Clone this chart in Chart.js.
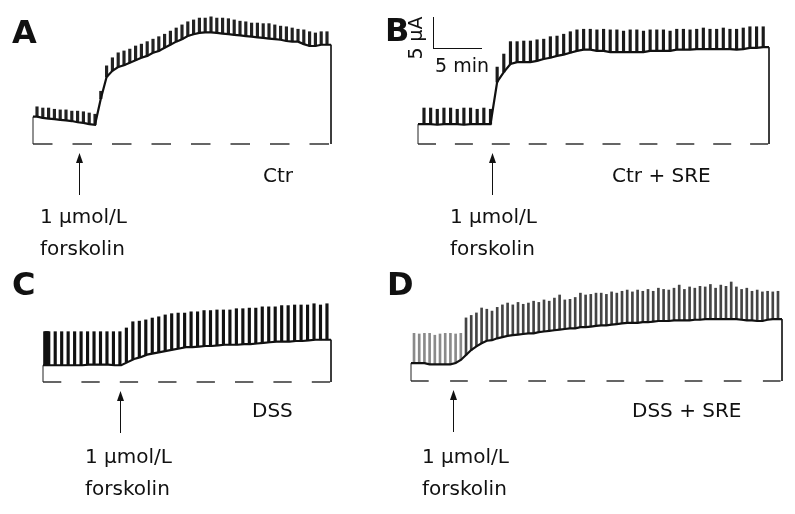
<!DOCTYPE html>
<html>
<head>
<meta charset="utf-8">
<script src="https://cdn.jsdelivr.net/npm/chart.js@4.4.1/dist/chart.umd.min.js"></script>
<style>
    html, body { margin: 0; padding: 0; background: #fff; }
    #fig {
        position: relative; width: 795px; height: 514px; overflow: hidden;
        font-family: "DejaVu Sans", Verdana, sans-serif; color: #111;
    }
    #fig canvas { position: absolute; left: 0; top: 0; }
    .t { position: absolute; font-size: 20px; line-height: 1; white-space: nowrap; }
    .lab { position: absolute; font-size: 32px; font-weight: bold; line-height: 1; }
    .bar { position: absolute; background: #111; }
</style>
</head>
<body>
<div id="fig">
    <canvas id="chartA" width="795" height="514"></canvas>
    <canvas id="chartB" width="795" height="514"></canvas>
    <canvas id="chartC" width="795" height="514"></canvas>
    <canvas id="chartD" width="795" height="514"></canvas>

    <div class="lab" style="left:12px; top:16px;">A</div>
    <div class="lab" style="left:385px; top:14px;">B</div>
    <div class="lab" style="left:12px; top:268px;">C</div>
    <div class="lab" style="left:387px; top:268px;">D</div>

    <!-- scale bar: 5 uA / 5 min -->
    <div class="bar" style="left:433px; top:17px; width:1px; height:31px;"></div>
    <div class="bar" style="left:433px; top:48px; width:49px; height:1px;"></div>
    <div class="t" style="left:415px; top:38px; font-size:19px; transform:translate(-50%,-50%) rotate(-90deg);">5 &mu;A</div>
    <div class="t" style="left:435px; top:56px; font-size:19px;">5 min</div>

    <div class="t" style="left:40px; top:206px;">1 &mu;mol/L</div>
    <div class="t" style="left:40px; top:238px;">forskolin</div>
    <div class="t" style="left:263px; top:165px;">Ctr</div>

    <div class="t" style="left:450px; top:206px;">1 &mu;mol/L</div>
    <div class="t" style="left:450px; top:238px;">forskolin</div>
    <div class="t" style="left:612px; top:165px;">Ctr + SRE</div>

    <div class="t" style="left:85px; top:446px;">1 &mu;mol/L</div>
    <div class="t" style="left:85px; top:478px;">forskolin</div>
    <div class="t" style="left:252px; top:400px;">DSS</div>

    <div class="t" style="left:422px; top:446px;">1 &mu;mol/L</div>
    <div class="t" style="left:422px; top:478px;">forskolin</div>
    <div class="t" style="left:632px; top:400px;">DSS + SRE</div>
</div>

<script>
// Short-circuit current (uA) at each clamp pulse: baseline and pulse top
const aBase = [4.4, 4.2, 4.1, 4.0, 3.9, 3.8, 3.7, 3.5, 3.4, 3.2, 3.1,
    7.3, 10.8, 11.8, 12.4, 12.7, 13.1, 13.5, 13.9, 14.2, 14.7,
    15.0, 15.5, 16.0, 16.5, 16.9, 17.4, 17.7, 17.9, 18.0, 18.0,
    17.9, 17.8, 17.7, 17.6, 17.5, 17.4, 17.3, 17.2, 17.1, 17.0,
    16.9, 16.8, 16.6, 16.5, 16.5, 16.1, 15.8, 15.8, 16.0, 16.0];
const aTop = [6.0, 5.8, 5.8, 5.6, 5.5, 5.5, 5.3, 5.3, 5.2, 5.0, 4.8,
    8.5, 12.6, 13.9, 14.7, 15.0, 15.3, 15.8, 16.1, 16.5, 16.9,
    17.3, 17.7, 18.2, 18.7, 19.2, 19.7, 20.0, 20.3, 20.3, 20.5,
    20.3, 20.3, 20.2, 20.0, 19.8, 19.7, 19.5, 19.5, 19.4, 19.4,
    19.2, 19.0, 18.9, 18.7, 18.5, 18.4, 18.1, 17.9, 18.1, 18.1];

const bBase = [3.2, 3.2, 3.1, 3.2, 3.2, 3.2, 3.1, 3.2, 3.2, 3.2, 3.2,
    10.0, 11.6, 12.9, 13.2, 13.2, 13.2, 13.4, 13.7, 13.9, 14.2,
    14.4, 14.7, 15.0, 15.2, 15.2, 15.0, 15.0, 14.8, 14.8, 14.8,
    14.8, 14.8, 14.8, 15.0, 15.0, 15.0, 15.0, 15.2, 15.2, 15.2,
    15.3, 15.3, 15.3, 15.3, 15.3, 15.3, 15.2, 15.3, 15.5, 15.5, 15.6];
const bTop = [5.8, 5.8, 5.6, 5.8, 5.8, 5.6, 5.8, 5.8, 5.6, 5.8, 5.6,
    12.4, 14.5, 16.5, 16.5, 16.6, 16.6, 16.8, 16.9, 17.3, 17.4,
    17.7, 18.1, 18.4, 18.5, 18.5, 18.4, 18.5, 18.4, 18.4, 18.2,
    18.4, 18.4, 18.2, 18.4, 18.4, 18.4, 18.2, 18.5, 18.5, 18.4,
    18.5, 18.7, 18.5, 18.5, 18.7, 18.5, 18.5, 18.7, 18.9, 18.9, 18.9];

const cBase = [2.7, 2.7, 2.7, 2.7, 2.7, 2.7, 2.8, 2.8, 2.8, 2.8, 2.7, 2.7,
    3.2, 3.7, 4.0, 4.4, 4.6, 4.8, 5.0, 5.2, 5.4, 5.6,
    5.6, 5.7, 5.8, 5.8, 5.9, 6.0, 6.0, 6.0, 6.1, 6.1,
    6.2, 6.3, 6.4, 6.5, 6.5, 6.5, 6.6, 6.6, 6.7, 6.8, 6.8, 6.8];
const cTop = [8.1, 8.1, 8.1, 8.1, 8.1, 8.1, 8.1, 8.1, 8.1, 8.1, 8.1, 8.1,
    8.7, 9.7, 9.8, 10.0, 10.3, 10.5, 10.8, 11.0, 11.1, 11.1,
    11.3, 11.3, 11.5, 11.5, 11.6, 11.6, 11.6, 11.8, 11.8, 11.9,
    11.9, 12.1, 12.1, 12.1, 12.3, 12.3, 12.4, 12.4, 12.4, 12.6, 12.4, 12.6];
// fast pulses right at the start of recording C
const cBurstAt = [-1.0, -0.85, -0.7, -0.55];
const cBurstTop = [8.1, 8.1, 8.1, 8.1];

const dBase = [2.9, 2.9, 2.9, 2.7, 2.7, 2.7, 2.7, 2.7,
    2.9, 3.4, 4.2, 5.0, 5.6, 6.1, 6.5, 6.6, 6.9, 7.1, 7.3, 7.4,
    7.5, 7.6, 7.7, 7.7, 7.9, 8.0, 8.1, 8.2, 8.3, 8.4,
    8.5, 8.5, 8.7, 8.7, 8.8, 8.9, 9.0, 9.0, 9.1, 9.2,
    9.3, 9.4, 9.4, 9.4, 9.5, 9.5, 9.6, 9.7, 9.7, 9.7,
    9.8, 9.8, 9.8, 9.8, 9.9, 9.9, 10.0, 10.0, 10.0, 10.0,
    10.0, 10.0, 10.0, 9.9, 9.8, 9.8, 9.7, 9.7, 9.9, 10.0, 10.0];
const dTop = [7.7, 7.6, 7.7, 7.7, 7.4, 7.6, 7.7, 7.7, 7.6, 7.7,
    10.2, 10.6, 11.0, 11.8, 11.6, 11.3, 11.9, 12.3, 12.6, 12.3,
    12.7, 12.4, 12.6, 12.9, 12.7, 13.1, 12.9, 13.4, 13.9, 13.1,
    13.2, 13.5, 14.2, 13.9, 14.0, 14.2, 14.2, 14.0, 14.4, 14.2,
    14.5, 14.7, 14.4, 14.7, 14.5, 14.8, 14.5, 15.0, 14.8, 14.7,
    15.0, 15.5, 14.8, 15.2, 15.0, 15.3, 15.2, 15.6, 15.0, 15.5,
    15.3, 16.0, 15.2, 14.8, 15.0, 14.5, 14.7, 14.4, 14.5, 14.4, 14.5];

// pulse number at which forskolin was added
const aForskolin = 7.2;
const bForskolin = 10.2;
const cForskolin = 10.8;
const dForskolin = 7.5;

/*
|--------------------------------------------------------------------------
| Arrow under each trace marking forskolin addition
|--------------------------------------------------------------------------
*/
const arrowPlugin = {
    id: "forskolinArrow",
    afterDraw(chart, args, opts) {
        const ctx = chart.ctx;
        const x = Math.round(chart.scales.x.getPixelForValue(opts.at)) + 0.5;
        const tip = chart.chartArea.bottom + 9;
        const end = chart.chartArea.bottom + 51;
        ctx.save();
        ctx.strokeStyle = "#111";
        ctx.fillStyle = "#111";
        ctx.lineWidth = 1;
        ctx.beginPath();
        ctx.moveTo(x, tip + 8);
        ctx.lineTo(x, end);
        ctx.stroke();
        ctx.beginPath();
        ctx.moveTo(x, tip);
        ctx.lineTo(x - 3.5, tip + 10);
        ctx.lineTo(x + 3.5, tip + 10);
        ctx.closePath();
        ctx.fill();
        ctx.restore();
    }
};

function drawTrace(id, base, top, cfg) {
    const last = base.length - 1;
    const pulses = base.map((b, i) => ({ x: i, y: [b, top[i]] }));
    const trace = [{ x: cfg.xMin, y: base[0] }]
        .concat(base.map((b, i) => ({ x: i, y: b })))
        .concat([{ x: cfg.xMax, y: base[last] }]);
    const edges = [
        { x: cfg.xMin, y: 0 }, { x: cfg.xMin, y: base[0] },
        { x: (cfg.xMin + cfg.xMax) / 2, y: null },
        { x: cfg.xMax, y: base[last] }, { x: cfg.xMax, y: 0 }
    ];

    const datasets = [
        {
            type: "line",
            data: trace,
            borderColor: "#111",
            borderWidth: 2.2,
            pointRadius: 0,
            tension: 0,
            clip: false
        },
        {
            type: "line",
            data: edges,
            borderColor: "#222",
            borderWidth: 1,
            pointRadius: 0,
            spanGaps: false,
            clip: false
        },
        {
            type: "line",
            data: [{ x: cfg.xMin, y: 0 }, { x: cfg.xMax, y: 0 }],
            borderColor: "#333",
            borderWidth: 1.5,
            borderDash: cfg.dash,
            pointRadius: 0,
            clip: false
        },
        {
            type: "bar",
            data: pulses,
            backgroundColor: ctx => ctx.dataIndex < cfg.preCount ? cfg.preColor : cfg.color,
            barThickness: cfg.pulseWidth,
            clip: false
        }
    ];

    if (cfg.burst) {
        datasets.push({
            type: "bar",
            data: cfg.burst.at.map((t, i) => ({ x: t, y: [base[0], cfg.burst.top[i]] })),
            backgroundColor: cfg.color,
            barThickness: cfg.pulseWidth,
            clip: false
        });
    }

    new Chart(document.getElementById(id), {
        type: "bar",
        data: { datasets: datasets },
        options: {
            responsive: false,
            animation: false,
            events: [],
            layout: {
                padding: {
                    left: cfg.area[0],
                    top: cfg.area[1],
                    right: 795 - cfg.area[2],
                    bottom: 514 - cfg.area[3]
                }
            },
            scales: {
                x: { type: "linear", min: cfg.xMin, max: cfg.xMax, offset: false, display: false },
                y: { min: 0, max: cfg.yMax, display: false }
            },
            plugins: {
                legend: { display: false },
                tooltip: { enabled: false },
                forskolinArrow: { at: cfg.arrow }
            }
        },
        plugins: [arrowPlugin]
    });
}

document.addEventListener("DOMContentLoaded", function () {
    drawTrace("chartA", aBase, aTop, {
        area: [33, 10, 331, 144], xMin: -0.69, xMax: 50.69, yMax: 21.6,
        dash: [19.5, 20], arrow: aForskolin,
        color: "#222", preColor: "#222", preCount: 0, pulseWidth: 2.5
    });
    drawTrace("chartB", bBase, bTop, {
        area: [418, 10, 769, 144], xMin: -0.9, xMax: 51.87, yMax: 21.6,
        dash: [18, 18.9], arrow: bForskolin,
        color: "#1a1a1a", preColor: "#1a1a1a", preCount: 0, pulseWidth: 2.5
    });
    drawTrace("chartC", cBase, cTop, {
        area: [43, 282, 331, 382], xMin: -1.08, xMax: 43.43, yMax: 16.1,
        dash: [18.3, 20.1], arrow: cForskolin,
        color: "#111", preColor: "#111", preCount: 0, pulseWidth: 2.5,
        burst: { at: cBurstAt, top: cBurstTop }
    });
    drawTrace("chartD", dBase, dTop, {
        area: [411, 282, 782, 381], xMin: -0.58, xMax: 70.77, yMax: 16.0,
        dash: [17.7, 21.4], arrow: dForskolin,
        color: "#444", preColor: "#8a8a8a", preCount: 10, pulseWidth: 2
    });
});
</script>
</body>
</html>
